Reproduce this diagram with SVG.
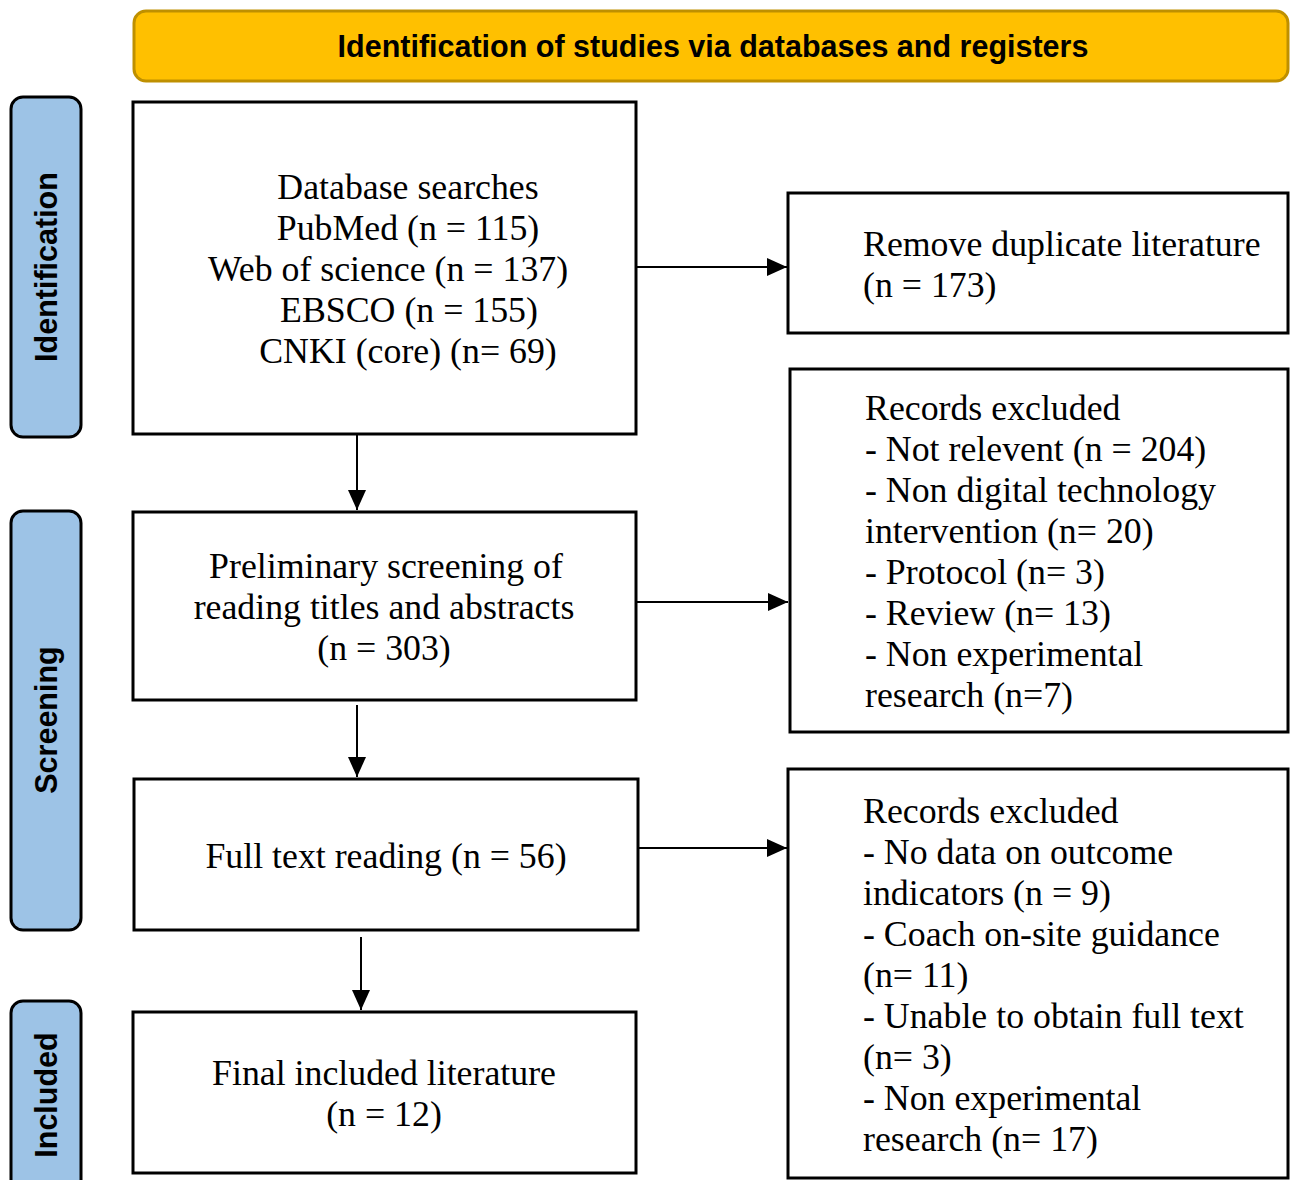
<svg xmlns="http://www.w3.org/2000/svg" width="1290" height="1180" viewBox="0 0 1290 1180">
<style>
.box{fill:#fff;stroke:#000;stroke-width:3}
.side{fill:#9DC3E6;stroke:#000;stroke-width:3}
.t{font-family:"Liberation Serif","Times New Roman",serif;font-size:35.8px;fill:#000}
.c{text-anchor:middle}
.lab{font-family:"Liberation Sans",Arial,sans-serif;font-weight:bold;font-size:30.5px;fill:#000;text-anchor:middle}
.con{stroke:#000;stroke-width:2;fill:none;marker-end:url(#ah)}
</style>
<defs>
<marker id="ah" viewBox="0 0 20 18" refX="20" refY="9" markerWidth="20" markerHeight="18" markerUnits="userSpaceOnUse" orient="auto">
<path d="M0,0 L20,9 L0,18 z" fill="#000"/>
</marker>
</defs>
<rect width="1290" height="1180" fill="#fff"/>
<g id="header">
<rect x="134" y="11" width="1154" height="70" rx="12" fill="#FFC000" stroke="#BF9000" stroke-width="3"/>
<text class="lab" x="713" y="57">Identification of studies via databases and registers</text>
</g>
<g id="side-identification">
<rect class="side" x="11" y="97" width="70" height="340" rx="12"/>
<text class="lab" transform="translate(57,267) rotate(-90)">Identification</text>
</g>
<g id="side-screening">
<rect class="side" x="11" y="511" width="70" height="419" rx="12"/>
<text class="lab" transform="translate(57,720) rotate(-90)">Screening</text>
</g>
<g id="side-included">
<rect class="side" x="11" y="1001" width="70" height="200" rx="12"/>
<text class="lab" transform="translate(57,1095) rotate(-90)">Included</text>
</g>
<g id="db-search">
<rect class="box" x="133" y="102" width="503" height="332"/>
<text class="t c" x="408" y="199">Database searches</text>
<text class="t c" x="408" y="240">PubMed (n = 115)</text>
<text class="t c" x="388" y="281">Web of science (n = 137)</text>
<text class="t c" x="409" y="322">EBSCO (n = 155)</text>
<text class="t c" x="408" y="363">CNKI (core) (n= 69)</text>
</g>
<g id="screening">
<rect class="box" x="133" y="512" width="503" height="188"/>
<text class="t c" x="386" y="578">Preliminary screening of</text>
<text class="t c" x="384" y="619">reading titles and abstracts</text>
<text class="t c" x="384" y="660">(n = 303)</text>
</g>
<g id="fulltext">
<rect class="box" x="134" y="779" width="504" height="151"/>
<text class="t c" x="386" y="868">Full text reading (n = 56)</text>
</g>
<g id="included">
<rect class="box" x="133" y="1012" width="503" height="161"/>
<text class="t c" x="384" y="1085">Final included literature</text>
<text class="t c" x="384" y="1126">(n = 12)</text>
</g>
<g id="duplicates">
<rect class="box" x="788" y="193" width="500" height="140"/>
<text class="t" x="863" y="256">Remove duplicate literature</text>
<text class="t" x="863" y="297">(n = 173)</text>
</g>
<g id="excluded1">
<rect class="box" x="790" y="369" width="498" height="363"/>
<text class="t" x="865" y="420">Records excluded</text>
<text class="t" x="865" y="461">- Not relevent (n = 204)</text>
<text class="t" x="865" y="502">- Non digital technology</text>
<text class="t" x="865" y="543">intervention (n= 20)</text>
<text class="t" x="865" y="584">- Protocol (n= 3)</text>
<text class="t" x="865" y="625">- Review (n= 13)</text>
<text class="t" x="865" y="666">- Non experimental</text>
<text class="t" x="865" y="707">research (n=7)</text>
</g>
<g id="excluded2">
<rect class="box" x="788" y="769" width="500" height="409"/>
<text class="t" x="863" y="823">Records excluded</text>
<text class="t" x="863" y="864">- No data on outcome</text>
<text class="t" x="863" y="905">indicators (n = 9)</text>
<text class="t" x="863" y="946">- Coach on-site guidance</text>
<text class="t" x="863" y="987">(n= 11)</text>
<text class="t" x="863" y="1028">- Unable to obtain full text</text>
<text class="t" x="863" y="1069">(n= 3)</text>
<text class="t" x="863" y="1110">- Non experimental</text>
<text class="t" x="863" y="1151">research (n= 17)</text>
</g>
<g id="connectors">
<line class="con" x1="357" y1="435" x2="357" y2="510"/>
<line class="con" x1="357" y1="705" x2="357" y2="777"/>
<line class="con" x1="361" y1="937" x2="361" y2="1010"/>
<line class="con" x1="637" y1="267" x2="787" y2="267"/>
<line class="con" x1="637" y1="602" x2="788" y2="602"/>
<line class="con" x1="639" y1="848" x2="787" y2="848"/>
</g>
</svg>
